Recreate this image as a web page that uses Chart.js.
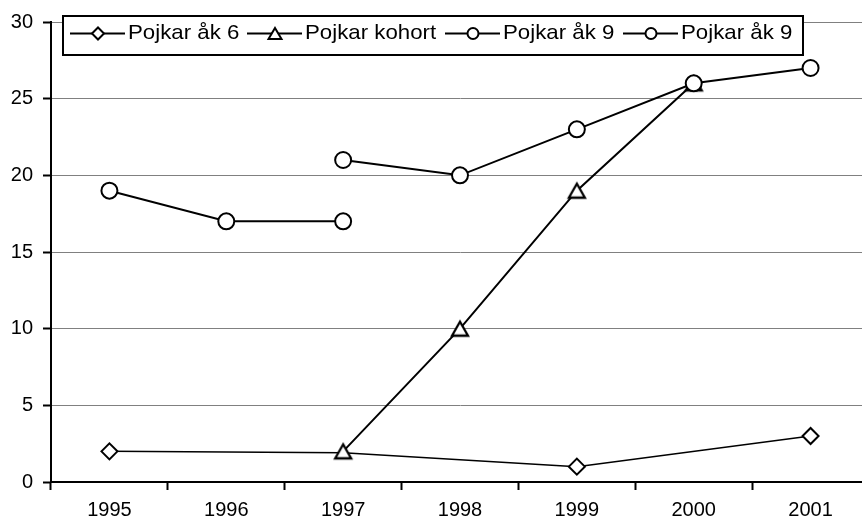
<!DOCTYPE html>
<html>
<head>
<meta charset="utf-8">
<script src="https://cdn.jsdelivr.net/npm/chart.js@4.4.0/dist/chart.umd.min.js"></script>
<style>
html,body{margin:0;padding:0;background:#fff;overflow:hidden;}
#wrap{width:862px;height:522px;overflow:hidden;position:relative;background:#fff;}
#inner{position:absolute;left:0;top:0;width:880px;height:522px;}
</style>
</head>
<body>
<div id="wrap"><div id="inner"><canvas id="c" width="880" height="522"></canvas></div></div>
<script>
// ---- data ----
const years = ['1995', '1996', '1997', '1998', '1999', '2000', '2001'];
const seriesNames = ['Pojkar åk 6', 'Pojkar kohort', 'Pojkar åk 9', 'Pojkar åk 9'];
const pojkarAk6 = [2, null, 1.9, null, 1, null, 3];
const pojkarKohort = [null, null, 2, 10, 19, 26, null];
const pojkarAk9a = [19, 17, 17, null, null, null, null];
const pojkarAk9b = [null, null, 21, 20, 23, 26, 27];
const yTicks = [0, 5, 10, 15, 20, 25, 30];

const FONT = "'Liberation Sans', Arial, sans-serif";

// triangle marker centred on its bounding box (like the original)
function makeTriangle(halfW, halfH) {
  const c = document.createElement('canvas');
  const s = 26;
  c.width = s; c.height = s;
  const g = c.getContext('2d');
  const m = s / 2;
  g.beginPath();
  g.moveTo(m, m - halfH);
  g.lineTo(m + halfW, m + halfH);
  g.lineTo(m - halfW, m + halfH);
  g.closePath();
  g.fillStyle = '#fff'; g.fill();
  g.lineWidth = 2.3; g.lineJoin = 'miter'; g.strokeStyle = '#000'; g.stroke();
  return c;
}
const triImg = makeTriangle(8, 7);

const base = {
  borderColor: '#000',
  pointBackgroundColor: '#fff',
  pointBorderColor: '#000',
  pointBorderWidth: 2,
  spanGaps: true,
  tension: 0,
  fill: false
};

const datasets = [
  Object.assign({}, base, {
    label: seriesNames[0], data: pojkarAk6, pointStyle: 'rectRot', borderWidth: 1.5,
    pointRadius: ctx => (ctx.dataIndex === 2 ? 0 : 8), order: 3, legendStyle: 'rectRot'
  }),
  Object.assign({}, base, {
    label: seriesNames[1], data: pojkarKohort, pointStyle: triImg, borderWidth: 2,
    pointRadius: 9, order: 2, legendStyle: 'triangle'
  }),
  Object.assign({}, base, {
    label: seriesNames[2], data: pojkarAk9a, pointStyle: 'circle', borderWidth: 2,
    pointRadius: 8, order: 1, legendStyle: 'circle'
  }),
  Object.assign({}, base, {
    label: seriesNames[3], data: pojkarAk9b, pointStyle: 'circle', borderWidth: 2,
    pointRadius: 8, order: 0, legendStyle: 'circle'
  })
];

function drawMarker(ctx, style, x, y, r) {
  ctx.beginPath();
  if (style === 'rectRot') {
    ctx.moveTo(x - r, y); ctx.lineTo(x, y - r); ctx.lineTo(x + r, y); ctx.lineTo(x, y + r); ctx.closePath();
  } else if (style === 'triangle') {
    ctx.moveTo(x, y - r * 0.85); ctx.lineTo(x + r, y + r * 0.85); ctx.lineTo(x - r, y + r * 0.85); ctx.closePath();
  } else {
    ctx.arc(x, y, r, 0, Math.PI * 2);
  }
  ctx.fillStyle = '#fff'; ctx.fill();
  ctx.lineWidth = 2; ctx.strokeStyle = '#000'; ctx.stroke();
}

const boxLegend = {
  id: 'boxLegend',
  afterDraw(chart) {
    const ctx = chart.ctx;
    ctx.save();
    const bx = 63, by = 16, bw = 740, bh = 39;
    ctx.fillStyle = '#fff';
    ctx.fillRect(bx, by, bw, bh);
    ctx.lineWidth = 2; ctx.strokeStyle = '#000';
    ctx.strokeRect(bx, by, bw, bh);
    const starts = [70, 247, 445, 623];
    const cy = 33.5;
    const sizes = {rectRot: 6, triangle: 6.5, circle: 5.5};
    chart.data.datasets.forEach((ds, i) => {
      const x0 = starts[i];
      ctx.beginPath();
      ctx.moveTo(x0, cy); ctx.lineTo(x0 + 55, cy);
      ctx.lineWidth = 2; ctx.strokeStyle = '#000'; ctx.stroke();
      drawMarker(ctx, ds.legendStyle, x0 + 28, cy, sizes[ds.legendStyle]);
      ctx.save();
      ctx.translate(x0 + 58, cy);
      ctx.scale(1.06, 1);
      ctx.fillStyle = '#000';
      ctx.font = '21px ' + FONT;
      ctx.textAlign = 'left';
      ctx.textBaseline = 'middle';
      ctx.fillText(ds.label, 0, 0);
      ctx.restore();
    });
    ctx.restore();
  }
};

new Chart(document.getElementById('c'), {
  type: 'line',
  data: { labels: years, datasets: datasets },
  plugins: [boxLegend],
  options: {
    responsive: false,
    animation: false,
    layout: { padding: { left: 0, top: 22, right: 7, bottom: 0 } },
    plugins: { legend: { display: false }, tooltip: { enabled: false } },
    scales: {
      x: {
        offset: true,
        grid: { offset: true, drawOnChartArea: false, drawTicks: true, tickLength: 8, tickColor: '#000', tickWidth: 2 },
        border: { display: true, color: '#000', width: 2 },
        ticks: { color: '#000', font: { family: FONT, size: 20 }, padding: 8, maxRotation: 0, autoSkip: false },
        afterFit: s => { s.height = 40; s.paddingLeft = 0; s.paddingRight = 0; }
      },
      y: {
        min: 0, max: 30,
        afterBuildTicks: s => { s.ticks = yTicks.map(v => ({ value: v })); },
        grid: { color: '#808080', lineWidth: 1, drawTicks: true, tickLength: 8, tickColor: '#000', tickWidth: 2 },
        border: { display: true, color: '#000', width: 2 },
        ticks: { color: '#000', font: { family: FONT, size: 20 }, padding: 10 },
        afterFit: s => { s.width = 51; s.paddingTop = 0; s.paddingBottom = 0; }
      }
    }
  }
});
</script>
</body>
</html>
